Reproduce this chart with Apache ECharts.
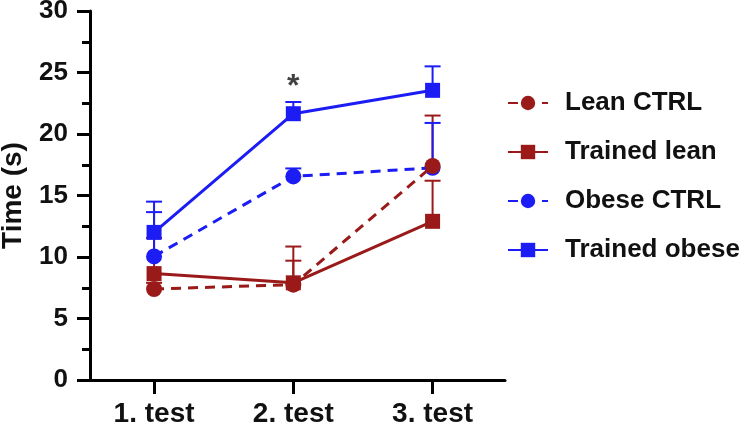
<!DOCTYPE html>
<html>
<head>
<meta charset="utf-8">
<script src="https://cdn.jsdelivr.net/npm/echarts@6/dist/echarts.min.js"></script>
<style>
html,body{margin:0;padding:0;background:#fff;}
#c{width:748px;height:427px;}
</style>
</head>
<body>
<div id="c"></div>
<script>
// ---- data ----
var testPositions = [1, 2, 3];
var testLabels = ['1. test', '2. test', '3. test'];
var seriesNames = ['Lean CTRL', 'Trained lean', 'Obese CTRL', 'Trained obese'];
var leanCtrl = [7.4, 7.75, 17.4];
var leanCtrlErr = [0.5, 3.1, 4.1];
var trainedLean = [8.65, 7.9, 12.9];
var trainedLeanErr = [2.9, 1.8, 3.3];
var obeseCtrl = [10.05, 16.55, 17.25];
var obeseCtrlErr = [3.6, 0.65, 3.65];
var trainedObese = [12.0, 21.65, 23.55];
var trainedObeseErr = [2.5, 0.95, 1.95];
var yTicks = [0, 5, 10, 15, 20, 25, 30];
var annotation = {x: 2, y: 23.8, text: '*'};

var RED = '#9a1a1a';
var BLUE = '#1c1cf5';
var FONT = '"Liberation Sans", Arial, sans-serif';

function pts(vals) { return vals.map(function (v, i) { return [testPositions[i], v]; }); }
function errPts(vals, errs) { return vals.map(function (v, i) { return [testPositions[i], v, v + errs[i]]; }); }

function lineSeries(name, vals, color, dashed, symbol, size, z) {
  return {
    name: name, type: 'line', data: pts(vals), z: z,
    symbol: symbol, symbolSize: size,
    itemStyle: {color: color},
    lineStyle: {color: color, width: 3, type: dashed ? [10, 7] : 'solid'},
    emphasis: {disabled: true}
  };
}
function errSeries(name, vals, errs, color) {
  return {
    name: name, type: 'custom', z: 1, silent: true,
    data: errPts(vals, errs),
    renderItem: function (params, api) {
      var x = api.value(0);
      var p0 = api.coord([x, api.value(1)]);
      var p1 = api.coord([x, api.value(2)]);
      var hw = 8;
      return {
        type: 'group',
        children: [
          {type: 'line', shape: {x1: p0[0], y1: p0[1], x2: p1[0], y2: p1[1]}, style: {stroke: color, lineWidth: 2}},
          {type: 'line', shape: {x1: p1[0] - hw, y1: p1[1], x2: p1[0] + hw, y2: p1[1]}, style: {stroke: color, lineWidth: 2}}
        ]
      };
    }
  };
}

var chart = echarts.init(document.getElementById('c'), null, {renderer: 'canvas'});
chart.setOption({
  animation: false,
  backgroundColor: '#fff',
  textStyle: {fontFamily: FONT},
  grid: {left: 90, right: 243, top: 11, bottom: 47, containLabel: false, outerBoundsMode: 'none'},
  legend: {
    orient: 'vertical', left: 502, top: 85,
    itemWidth: 40, itemHeight: 18, itemGap: 23,
    data: seriesNames,
    textStyle: {fontFamily: FONT, fontSize: 26, fontWeight: 'bold', color: '#111', lineHeight: 26, padding: [0, 0, 0, 12]},
    selectedMode: false
  },
  xAxis: {
    type: 'value', min: 0.54, max: 3.52,
    axisLine: {show: true, lineStyle: {color: '#000', width: 3}},
    axisTick: {show: true, length: 14, lineStyle: {color: '#000', width: 3}, customValues: testPositions},
    axisLabel: {
      show: true, margin: 20, customValues: testPositions,
      fontFamily: FONT, fontSize: 28, fontWeight: 'bold', color: '#111',
      formatter: function (v) { var i = testPositions.indexOf(v); return i >= 0 ? testLabels[i] : ''; }
    },
    splitLine: {show: false}
  },
  yAxis: {
    type: 'value', min: 0, max: 30, interval: 5,
    name: 'Time (s)', nameLocation: 'middle', nameGap: 63,
    nameTextStyle: {fontFamily: FONT, fontSize: 28, fontWeight: 'bold', color: '#111'},
    axisLine: {show: true, lineStyle: {color: '#000', width: 3}},
    axisTick: {show: true, length: 13, lineStyle: {color: '#000', width: 3}},
    minorTick: {show: true, splitNumber: 2, length: 8, lineStyle: {color: '#000', width: 3}},
    axisLabel: {
      margin: 22, fontFamily: FONT, fontSize: 26, fontWeight: 'bold', color: '#111',
      customValues: yTicks
    },
    splitLine: {show: false}
  },
  series: [
    errSeries('err0', leanCtrl, leanCtrlErr, RED),
    errSeries('err1', trainedLean, trainedLeanErr, RED),
    errSeries('err2', obeseCtrl, obeseCtrlErr, BLUE),
    errSeries('err3', trainedObese, trainedObeseErr, BLUE),
    lineSeries('Lean CTRL', leanCtrl, RED, true, 'circle', 16, 5),
    lineSeries('Trained lean', trainedLean, RED, false, 'rect', 15, 3),
    lineSeries('Obese CTRL', obeseCtrl, BLUE, true, 'circle', 16, 3),
    lineSeries('Trained obese', trainedObese, BLUE, false, 'rect', 15, 4),
    {
      type: 'scatter', name: 'annotation', silent: true, z: 6,
      data: [[annotation.x, annotation.y]],
      symbolSize: 1, itemStyle: {color: 'rgba(0,0,0,0)'},
      label: {show: true, position: 'inside', formatter: annotation.text,
        fontFamily: FONT, fontSize: 32, fontWeight: 'bold', color: '#111'}
    }
  ]
});
</script>
</body>
</html>
